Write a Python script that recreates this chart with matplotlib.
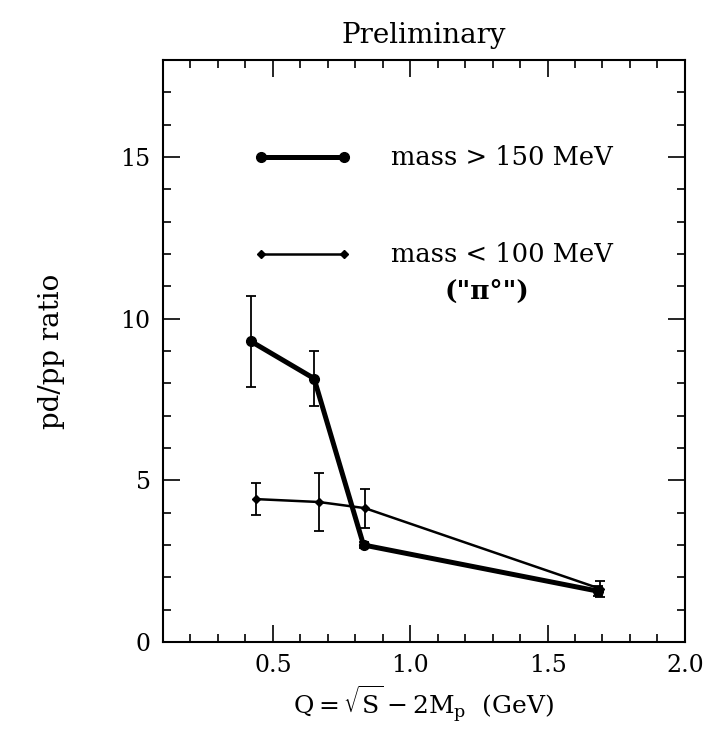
import matplotlib
matplotlib.use("Agg")
import matplotlib.pyplot as plt
from matplotlib.ticker import MultipleLocator, FixedLocator

plt.rcParams['font.family'] = ['DejaVu Serif']
plt.rcParams['mathtext.fontset'] = 'dejavuserif'

# Data: mass > 150 MeV (thick)
q_heavy = [0.42, 0.65, 0.83, 1.685]
r_heavy = [9.3, 8.15, 3.0, 1.57]
e_heavy = [1.4, 0.85, 0.1, 0.15]

# Data: mass < 100 MeV ("pi0", thin)
q_light = [0.437, 0.667, 0.835, 1.69]
r_light = [4.42, 4.33, 4.14, 1.65]
e_light = [0.5, 0.9, 0.6, 0.25]

legend_heavy = "mass > 150 MeV"
legend_light = "mass < 100 MeV"
pi_label = '("π°")'
title = "Preliminary"
ylabel = "pd/pp ratio"
xlabel = r'Q$=\sqrt{\mathrm{S}}-2\mathrm{M}_\mathrm{p}$  (GeV)'

fig = plt.figure(figsize=(7.10, 7.31), dpi=100)
ax = fig.add_axes([0.2296, 0.1218, 0.735, 0.796])

ax.errorbar(q_heavy, r_heavy, yerr=e_heavy, color='black', lw=3.6,
            marker='o', ms=7, elinewidth=1.3, capsize=3.5, capthick=1.3)
ax.errorbar(q_light, r_light, yerr=e_light, color='black', lw=1.8,
            marker='D', ms=4.5, elinewidth=1.3, capsize=3.5, capthick=1.3)

# legend drawn in data space
ax.plot([0.455, 0.76], [15, 15], color='black', lw=3.6, marker='o', ms=7)
ax.plot([0.455, 0.76], [12.0, 12.0], color='black', lw=1.8, marker='D', ms=4.5)
ax.text(0.93, 15, legend_heavy, fontsize=18.5, va='center', ha='left')
ax.text(0.93, 12.0, legend_light, fontsize=18.5, va='center', ha='left')
ax.text(1.28, 10.85, pi_label, fontsize=19, va='center', ha='center', fontweight='bold')

ax.set_xlim(0.1, 2.0)
ax.set_ylim(0, 18)
ax.xaxis.set_major_locator(FixedLocator([0.5, 1.0, 1.5, 2.0]))
ax.xaxis.set_minor_locator(MultipleLocator(0.1))
ax.yaxis.set_major_locator(MultipleLocator(5))
ax.yaxis.set_minor_locator(MultipleLocator(1))
ax.set_xticklabels(['0.5', '1.0', '1.5', '2.0'])
ax.tick_params(which='both', direction='in', top=True, right=True, labelsize=17, width=1.2)
ax.tick_params(which='major', length=12, pad=9)
ax.tick_params(which='minor', length=6)
for s in ax.spines.values():
    s.set_linewidth(1.5)

ax.set_title(title, fontsize=20, pad=12)
ax.set_ylabel(ylabel, fontsize=20, labelpad=40)
ax.set_xlabel(xlabel, fontsize=18, labelpad=4)

fig.savefig("out.png", dpi=100)
